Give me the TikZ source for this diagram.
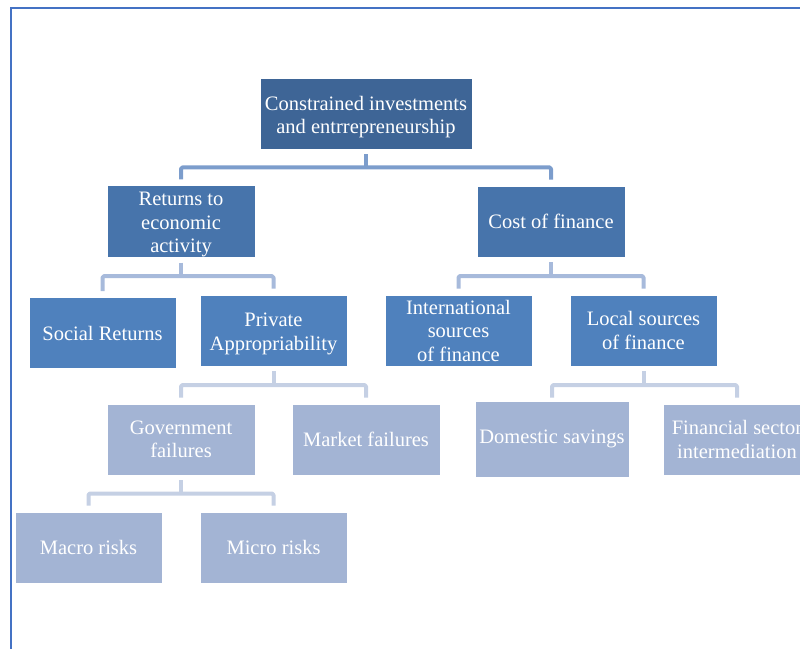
\documentclass[tikz,border=0pt]{standalone}
\usepackage{fontspec}
\setmainfont{Liberation Serif}
\usetikzlibrary{calc}
\definecolor{bord}{RGB}{68,114,196}
\definecolor{lvA}{RGB}{62,101,150}
\definecolor{lvB}{RGB}{71,116,171}
\definecolor{lvC}{RGB}{79,129,189}
\definecolor{lvD}{RGB}{163,180,212}
\definecolor{cA}{RGB}{124,157,204}
\definecolor{cB}{RGB}{167,186,219}
\definecolor{cC}{RGB}{197,208,228}
\tikzset{
  box/.style={rectangle, draw=white, line width=0.6pt, text=white, align=center,
    font=\fontsize{20.5}{23.5}\selectfont, inner sep=0pt},
  conn/.style={line width=4pt, line join=round, rounded corners=1.5pt},
}
\begin{document}
\begin{tikzpicture}[x=1pt,y=-1pt]
\useasboundingbox (0,0) rectangle (800,648);
\clip (0,0) rectangle (800,648);
\draw[bord, line width=2pt] (11,660) -- (11,8) -- (820,8);
% nodes
\node[box, fill=lvA, minimum width=212, minimum height=71] (top) at (366,113.5) {\rule{0pt}{21pt}Constrained investments\\and entrrepreneurship};
\node[box, fill=lvB, minimum width=148, minimum height=71] (ret) at (181,221.5) {\rule{0pt}{20pt}Returns to\\economic\\activity};
\node[box, fill=lvB, minimum width=148, minimum height=71] (cost) at (551,221.5) {Cost of finance};
\node[box, fill=lvC, minimum width=147, minimum height=71] (soc) at (102.5,333) {Social Returns};
\node[box, fill=lvC, minimum width=147, minimum height=71] (priv) at (273.5,330.5) {\rule{0pt}{20pt}Private\\Appropriability};
\node[box, fill=lvC, minimum width=147, minimum height=71] (intl) at (458.5,330.5) {International\\sources\\of finance};
\node[box, fill=lvC, minimum width=147, minimum height=71] (loc) at (643.5,330.5) {Local sources\\of finance};
\node[box, fill=lvD, minimum width=148, minimum height=71] (gov) at (181,439.5) {Government\\failures};
\node[box, fill=lvD, minimum width=148, minimum height=71] (mkt) at (366,439.5) {Market failures};
\node[box, fill=lvD, minimum width=154, minimum height=76] (dom) at (552,439) {Domestic savings};
\node[box, fill=lvD, minimum width=148, minimum height=71] (fin) at (737,439.5) {Financial sector\\intermediation};
\node[box, fill=lvD, minimum width=147, minimum height=71] (mac) at (88.5,547.5) {Macro risks};
\node[box, fill=lvD, minimum width=147, minimum height=71] (mic) at (273.5,547.5) {Micro risks};
% connectors
\coordinate (b1) at ($(top.south)!0.5!(top.south |- ret.north)$);
\draw[conn, cA] ($(top.south)+(0,5)$) -- (b1);
\draw[conn, cA] ($(ret.north)+(0,-6)$) |- (b1) -| ($(cost.north)+(0,-6)$);
\coordinate (b2) at ($(ret.south)!0.5!(ret.south |- priv.north)$);
\draw[conn, cB] ($(ret.south)+(0,5)$) -- (b2);
\draw[conn, cB] ($(soc.north)+(0,-6)$) |- (b2) -| ($(priv.north)+(0,-6)$);
\coordinate (b3) at ($(cost.south)!0.5!(cost.south |- loc.north)$);
\draw[conn, cB] ($(cost.south)+(0,5)$) -- (b3);
\draw[conn, cB] ($(intl.north)+(0,-6)$) |- (b3) -| ($(loc.north)+(0,-6)$);
\coordinate (b4) at ($(priv.south)!0.5!(priv.south |- mkt.north)$);
\draw[conn, cC] ($(priv.south)+(0,5)$) -- (b4);
\draw[conn, cC] ($(gov.north)+(0,-6)$) |- (b4) -| ($(mkt.north)+(0,-6)$);
\coordinate (b5) at ($(loc.south)!0.5!(loc.south |- fin.north)$);
\draw[conn, cC] ($(loc.south)+(0,5)$) -- (b5);
\draw[conn, cC] ($(dom.north)+(0,-3)$) |- (b5) -| ($(fin.north)+(0,-6)$);
\coordinate (b6) at ($(gov.south)!0.5!(gov.south |- mac.north)$);
\draw[conn, cC] ($(gov.south)+(0,5)$) -- (b6);
\draw[conn, cC] ($(mac.north)+(0,-6)$) |- (b6) -| ($(mic.north)+(0,-6)$);
\end{tikzpicture}
\end{document}
